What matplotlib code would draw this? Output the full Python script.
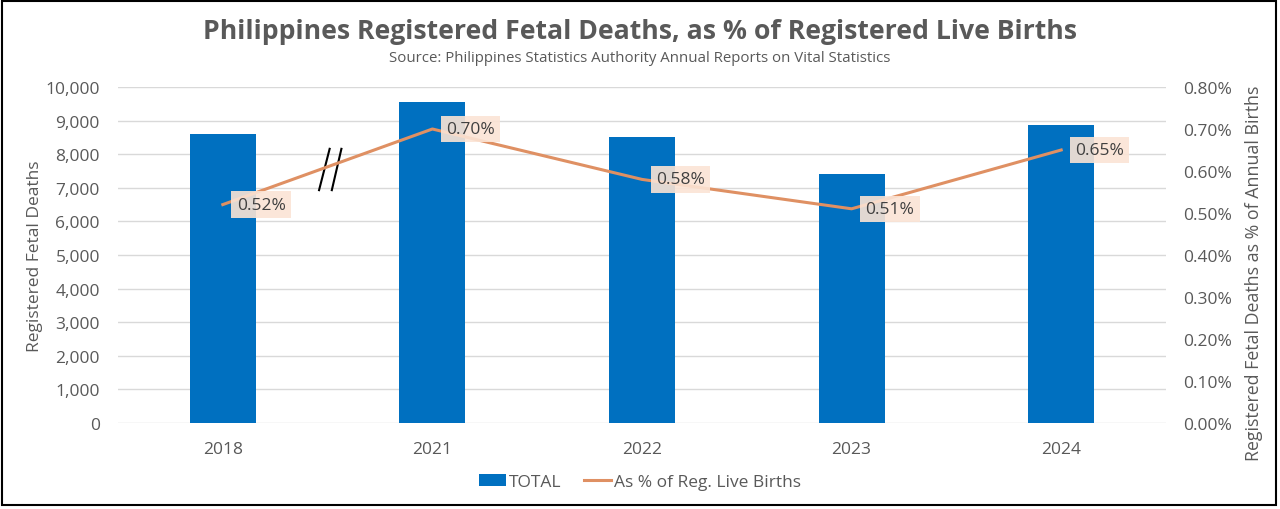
import matplotlib
matplotlib.use("Agg")
import matplotlib.pyplot as plt
from matplotlib.ticker import FuncFormatter, MultipleLocator
from matplotlib.patches import Rectangle, Patch
from matplotlib.lines import Line2D

plt.rcParams['font.family'] = ['Open Sans', 'DejaVu Sans']

years = ["2018", "2021", "2022", "2023", "2024"]
fetal_deaths = [8600, 9540, 8500, 7410, 8870]
pct_live_births = [0.0052, 0.0070, 0.0058, 0.0051, 0.0065]
pct_labels = ["0.52%", "0.70%", "0.58%", "0.51%", "0.65%"]

BAR_C = "#0070C0"
LINE_C = "#DF9063"
BOX_C = "#FBE4D5"
TXT_C = "#595959"
GRID_C = "#D9D9D9"
FS = 12.5

W, H = 1280, 510
fig = plt.figure(figsize=(W / 100, H / 100), dpi=100)
ax = fig.add_axes([118 / W, 1 - 424 / H, (1166 - 118) / W, (424 - 88) / H])
ax2 = ax.twinx()

x = list(range(len(years)))
ax.bar(x, fetal_deaths, width=0.315, color=BAR_C, zorder=2)
ax.set_xlim(-0.5, len(years) - 0.5)
ax.set_ylim(0, 10000)
ax.yaxis.set_major_locator(MultipleLocator(1000))
ax.yaxis.set_major_formatter(FuncFormatter(lambda v, p: f"{int(v):,}"))
ax.grid(axis='y', color=GRID_C, linewidth=1, zorder=0)
ax.set_axisbelow(True)
ax.set_xticks(x)
ax.set_xticklabels(years)
for a in (ax, ax2):
    for s in a.spines.values():
        s.set_visible(False)
    a.tick_params(length=0, labelsize=FS, colors=TXT_C)
ax.tick_params(axis='x', pad=13)
ax.tick_params(axis='y', pad=13)
ax2.tick_params(axis='y', pad=12)

ax2.plot(x, pct_live_births, color=LINE_C, linewidth=2.2, zorder=3)
ax2.set_ylim(0, 0.008)
ax2.yaxis.set_major_locator(MultipleLocator(0.001))
ax2.yaxis.set_major_formatter(FuncFormatter(lambda v, p: f"{v * 100:.2f}%"))
for xi, yi, lab in zip(x, pct_live_births, pct_labels):
    ax2.annotate(lab, (xi, yi), xytext=(10, 0), textcoords='offset points',
                 ha='left', va='center', fontsize=FS, color="#404040", zorder=5,
                 bbox=dict(boxstyle='square,pad=0.3', fc=BOX_C, ec='none', alpha=0.9))

ax.set_ylabel("Registered Fetal Deaths", fontsize=FS, color=TXT_C, labelpad=2)
ax2.set_ylabel("Registered Fetal Deaths as % of Annual Births", fontsize=12.8,
               color=TXT_C, labelpad=8)
ax2.yaxis.set_label_coords(1.0 + (1245 - 1166) / (1166 - 118), (424 - 273) / (424 - 88))

# axis break mark between first and second category
gap = 0.5
for dx0, dx1 in [(-0.042, 0.011), (0.019, 0.067)]:
    ax.plot([gap + dx0, gap + dx1], [6900, 8190], color='black', linewidth=1.5,
            zorder=6, solid_capstyle='butt')

fig.text(0.5, 1 - 32 / H, "Philippines Registered Fetal Deaths, as % of Registered Live Births",
         ha='center', va='center', fontsize=19.2, fontweight='bold', color=TXT_C)
fig.text(0.5, 1 - 58 / H, "Source: Philippines Statistics Authority Annual Reports on Vital Statistics",
         ha='center', va='center', fontsize=10.8, color=TXT_C)

handles = [Patch(facecolor=BAR_C, edgecolor='none'),
           Line2D([0], [0], color=LINE_C, linewidth=2.2)]
fig.legend(handles, ["TOTAL", "As % of Reg. Live Births"], loc='center',
           bbox_to_anchor=(0.5, 1 - 483 / H), ncol=2, frameon=False, fontsize=FS,
           labelcolor=TXT_C, handlelength=1.55, handletextpad=0.15, columnspacing=1.3)

fig.patches.append(Rectangle((1.5 / W, 1 - 506 / H), (1276 - 1.5) / W, (506 - 1.5) / H,
                             transform=fig.transFigure, fill=False, ec='black', lw=1.5))

fig.savefig("out.png", dpi=100)
